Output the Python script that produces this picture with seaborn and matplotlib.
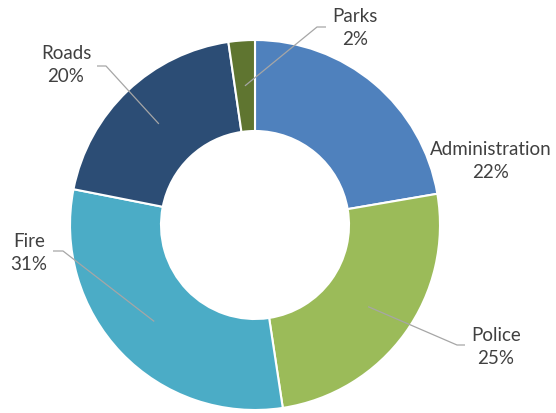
import matplotlib
matplotlib.use("Agg")
import matplotlib.pyplot as plt
import seaborn as sns
import numpy as np

# ---- data ----
categories = ["Administration", "Police", "Fire", "Roads", "Parks"]
values = [22.3, 25.3, 30.5, 19.6, 2.3]          # shares in percent
colors = ["#4F81BD", "#9BBB59", "#4BACC6", "#2C4D75", "#5F7530"]

sns.set_theme(style="white")
plt.rcParams['font.family'] = ['Lato', 'DejaVu Sans']

W, H = 556, 413
fig = plt.figure(figsize=(W / 100, H / 100), dpi=100)
ax = fig.add_axes([0, 0, 1, 1])

cx, cy = 255, H - 225
R, r_in = 185, 94
wedges, _ = ax.pie(values, colors=colors, startangle=90, counterclock=False,
                   center=(cx, cy), radius=R, frame=True,
                   wedgeprops=dict(width=R - r_in, edgecolor="white", linewidth=1.5))
ax.set_xlim(0, W)
ax.set_ylim(0, H)
ax.set_aspect("equal")
ax.axis("off")

# layout: label centers (pixels from top-left) and leader line start/bend
label_pos = {"Administration": (491, 161), "Police": (496, 347), "Fire": (29, 253),
             "Roads": (66, 65), "Parks": (355, 28)}
leaders = {"Police": (465, 345, 457), "Fire": (53, 251, 63),
           "Roads": (97, 66, 106), "Parks": (326, 27, 317)}

rm = (R + r_in) / 2
for w, cat, v in zip(wedges, categories, values):
    th = np.deg2rad((w.theta1 + w.theta2) / 2)
    ax_x, ax_y = cx + rm * np.cos(th), cy + rm * np.sin(th)
    lx, ly = label_pos[cat]
    pct = int(np.floor(v + 0.5))
    ax.text(lx, H - ly, f"{cat}\n{pct}%", ha="center", va="center", multialignment="center",
            fontsize=13.5, color="#404040", linespacing=1.38)
    if cat in leaders:
        sx, sy, bx = leaders[cat]
        ax.plot([sx, bx, ax_x], [H - sy, H - sy, ax_y], color="#A6A6A6", lw=0.9,
                solid_capstyle="butt")

fig.savefig("out.png", dpi=100)
